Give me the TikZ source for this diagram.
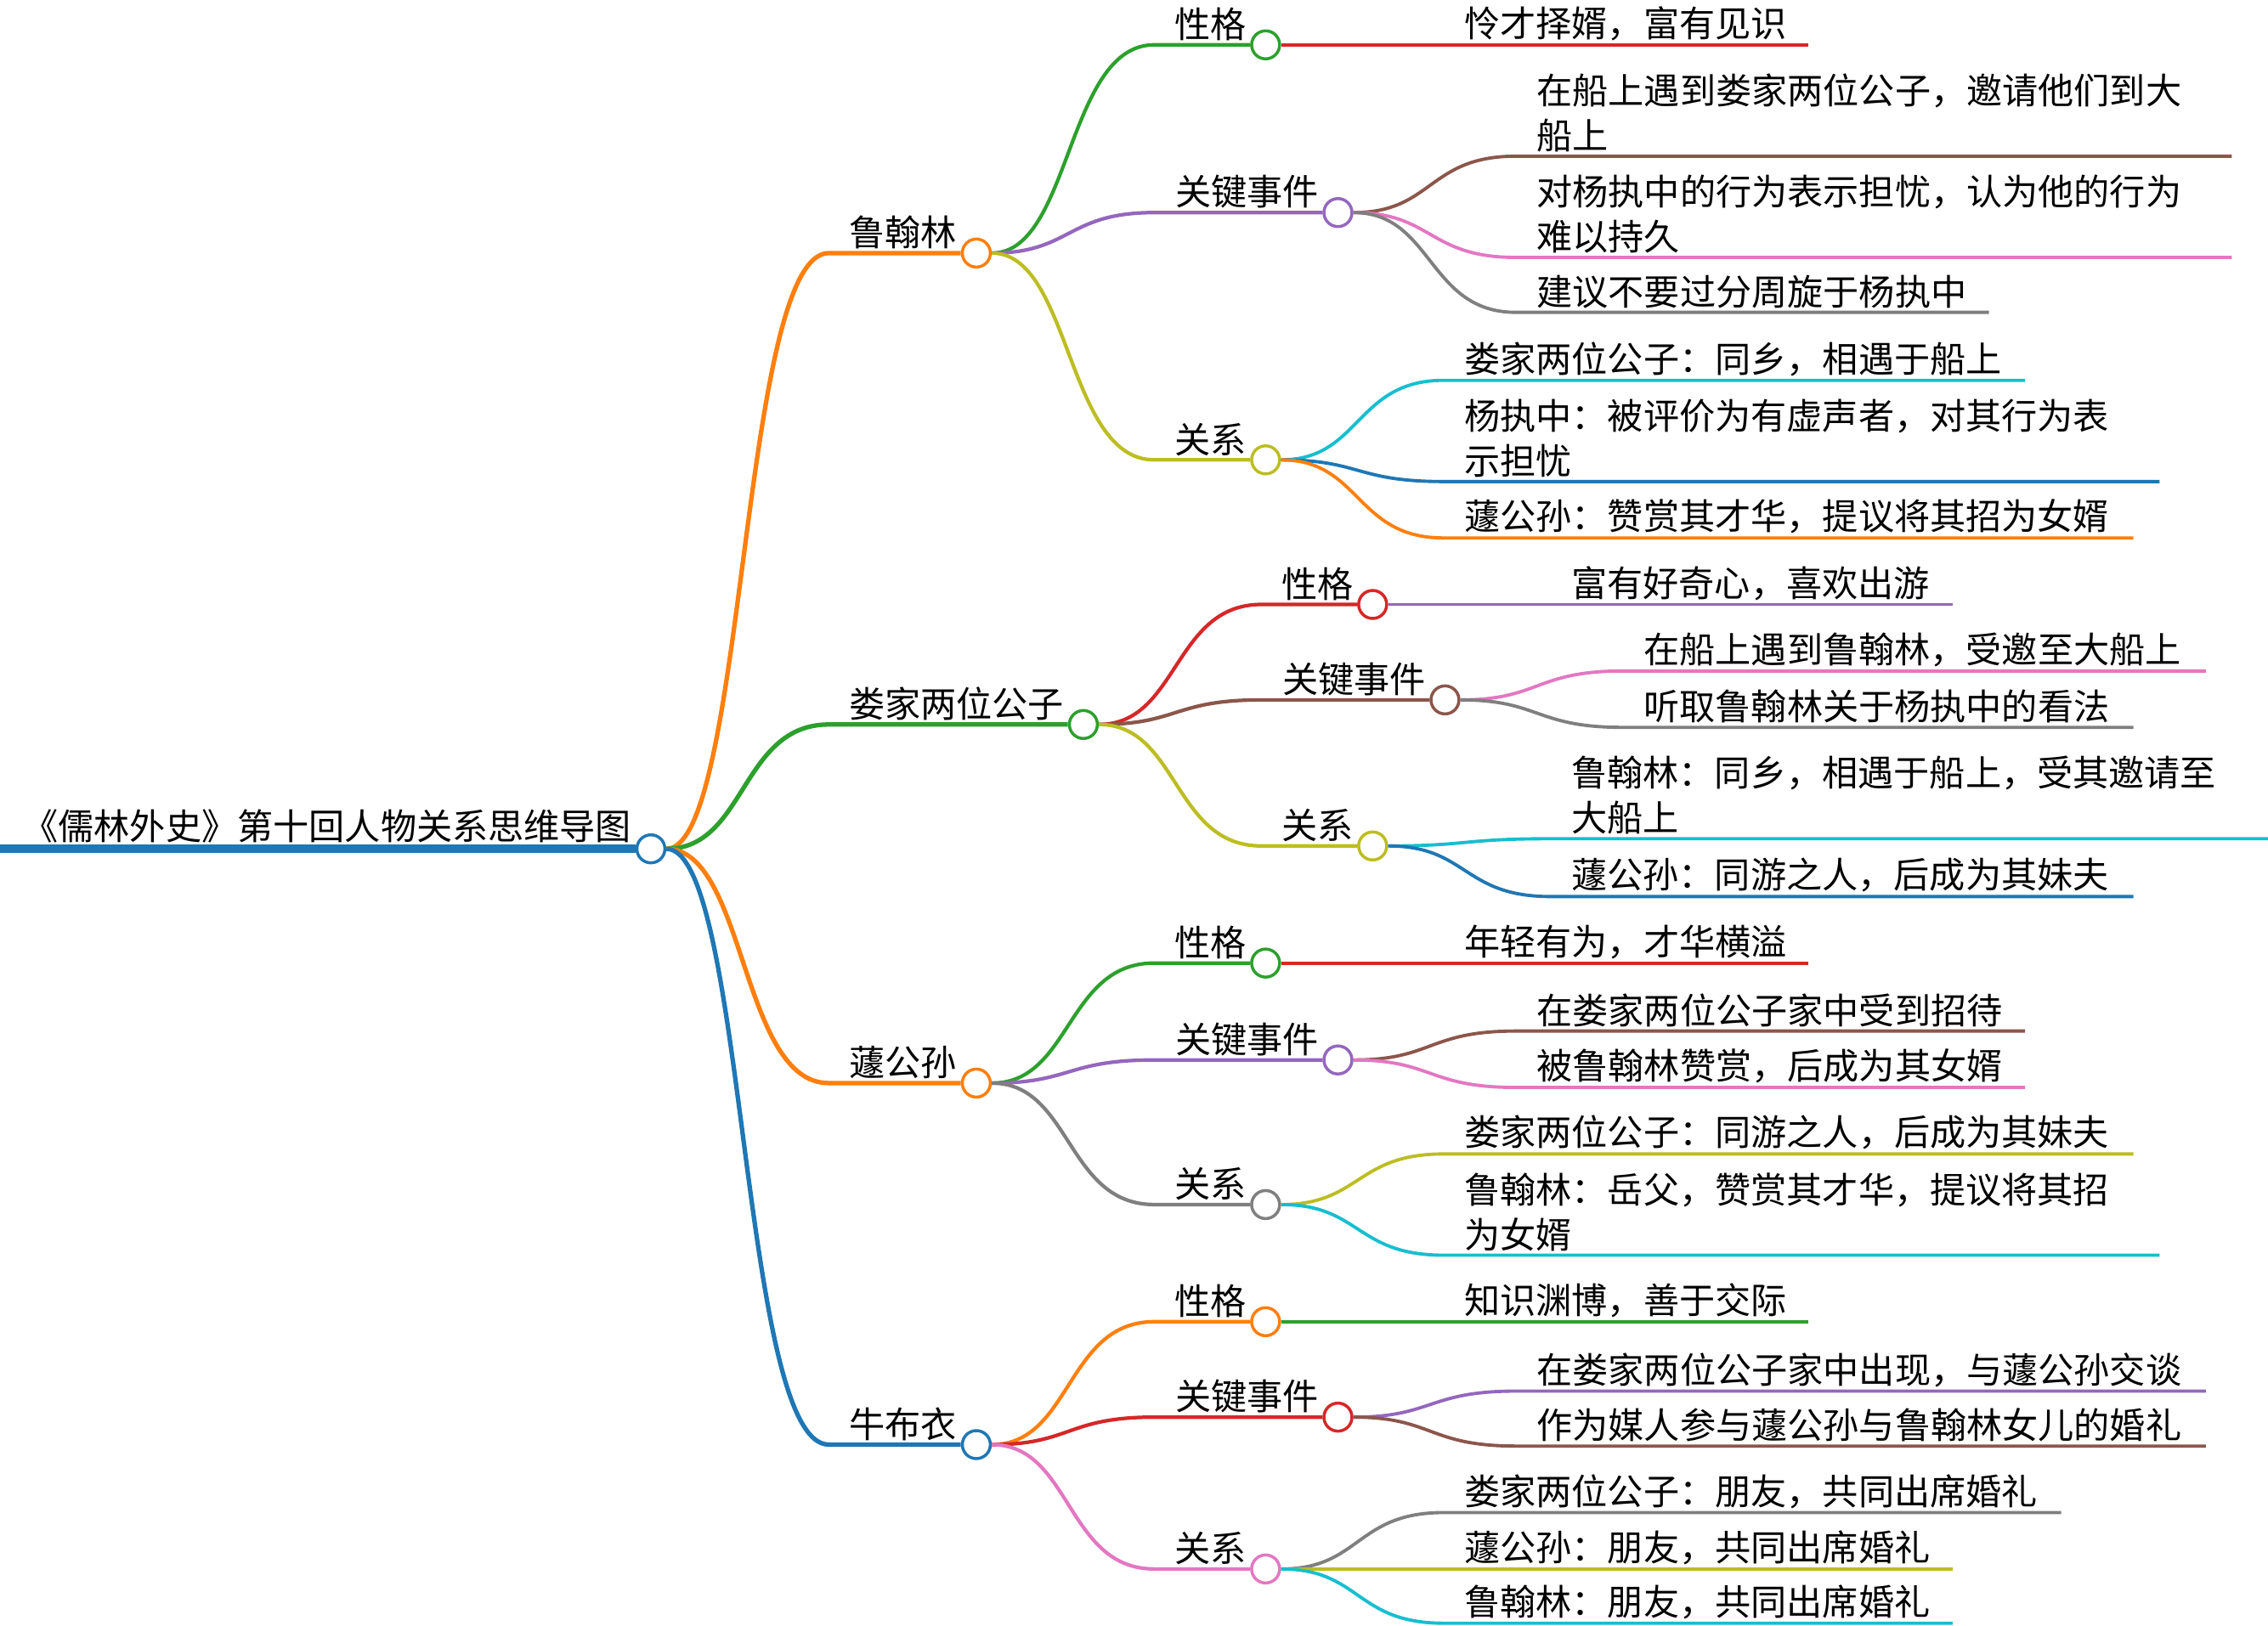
\documentclass[tikz,border=0pt]{standalone}
\usepackage{fontspec}
\setmainfont{Noto Sans CJK SC}
\usetikzlibrary{calc}
\definecolor{tblue}{HTML}{1F77B4}
\definecolor{torange}{HTML}{FF7F0E}
\definecolor{tgreen}{HTML}{2CA02C}
\definecolor{tred}{HTML}{D62728}
\definecolor{tpurple}{HTML}{9467BD}
\definecolor{tbrown}{HTML}{8C564B}
\definecolor{tpink}{HTML}{E377C2}
\definecolor{tgray}{HTML}{7F7F7F}
\definecolor{tolive}{HTML}{BCBD22}
\definecolor{tcyan}{HTML}{17BECF}
\tikzset{
	dot/.style={circle, draw=#1, fill=white, line width=1pt, minimum size=0.33cm, inner sep=0pt},
	lbl/.style={font=\fontsize{12pt}{15pt}\selectfont, inner sep=0pt, align=left}
}
\def\branch[#1](#2)(#3){\draw[#1] (#2.east) .. controls ($(#2.east)+(55,0)$) and ($(#2.center |- #3)+(62,0)$) .. ($(#2.center |- #3)+(123,0)$) -- (#3);}
\def\topic[#1,#2](#3)(#4:#5,#6)#7{%
	\node[dot=#1] (#4) at (#5,#6) {};
	\branch[draw=#1, line width=#2](#3)(#4)
	\node[lbl, anchor=south east] (#4-t) at ($(#4)+(-13,-2.5)$) {#7};}
\def\leaf[#1](#2)(#3:#4:#5)#6{%
	\coordinate (#3) at (#5,#4);
	\branch[draw=#1, line width=1.1pt](#2)(#3)
	\node[lbl, anchor=south west] (#3-t) at ($(#2.center |- #3)+(137,-2.5)$) {#6};}

\begin{document}
\begin{tikzpicture}[x=0.017022cm, y=-0.017022cm]
			%%%%% START %%%%%
			\useasboundingbox (0,0) rectangle (1568,1124);
			
			\node[dot=tblue] (root) at (450,587) {};
			\draw[tblue, line width=2.8pt] (0,587) -- (root);
			\node[lbl, anchor=south east] (root-t) at ($(root)+(-13,-3.5)$) {《儒林外史》第十回人物关系思维导图};
			
			% characters
			\topic[torange,1.5pt](root)(lhl:675,175){鲁翰林}
			\topic[tgreen,1.5pt](root)(lou:749,501){娄家两位公子}
			\topic[torange,1.5pt](root)(qu:675,749){蘧公孙}
			\topic[tblue,1.5pt](root)(niu:675,999){牛布衣}
			
			% 鲁翰林
			\topic[tgreen,1.2pt](lhl)(lhl1:875,31){性格}
			\topic[tpurple,1.2pt](lhl)(lhl2:925,147){关键事件}
			\topic[tolive,1.2pt](lhl)(lhl3:875,318){关系}
			\leaf[tred](lhl1)(lhl1a:31:1250){怜才择婿，富有见识}
			\leaf[tbrown](lhl2)(lhl2a:108:1543){在船上遇到娄家两位公子，邀请他们到大\\船上}
			\leaf[tpink](lhl2)(lhl2b:178:1543){对杨执中的行为表示担忧，认为他的行为\\难以持久}
			\leaf[tgray](lhl2)(lhl2c:216:1375){建议不要过分周旋于杨执中}
			\leaf[tcyan](lhl3)(lhl3a:263:1400){娄家两位公子：同乡，相遇于船上}
			\leaf[tblue](lhl3)(lhl3b:333:1493){杨执中：被评价为有虚声者，对其行为表\\示担忧}
			\leaf[torange](lhl3)(lhl3c:372:1475){蘧公孙：赞赏其才华，提议将其招为女婿}
			
			% 娄家两位公子
			\topic[tred,1.2pt](lou)(lou1:949,418){性格}
			\topic[tbrown,1.2pt](lou)(lou2:999,484){关键事件}
			\topic[tolive,1.2pt](lou)(lou3:949,585){关系}
			\leaf[tpurple](lou1)(lou1a:418:1350){富有好奇心，喜欢出游}
			\leaf[tpink](lou2)(lou2a:464:1525){在船上遇到鲁翰林，受邀至大船上}
			\leaf[tgray](lou2)(lou2b:503:1475){听取鲁翰林关于杨执中的看法}
			\leaf[tcyan](lou3)(lou3a:580:1568){鲁翰林：同乡，相遇于船上，受其邀请至\\大船上}
			\leaf[tblue](lou3)(lou3b:620:1475){蘧公孙：同游之人，后成为其妹夫}
			
			% 蘧公孙
			\topic[tgreen,1.2pt](qu)(qu1:875,666){性格}
			\topic[tpurple,1.2pt](qu)(qu2:925,733){关键事件}
			\topic[tgray,1.2pt](qu)(qu3:875,833){关系}
			\leaf[tred](qu1)(qu1a:666:1250){年轻有为，才华横溢}
			\leaf[tbrown](qu2)(qu2a:713:1400){在娄家两位公子家中受到招待}
			\leaf[tpink](qu2)(qu2b:752:1400){被鲁翰林赞赏，后成为其女婿}
			\leaf[tolive](qu3)(qu3a:798:1475){娄家两位公子：同游之人，后成为其妹夫}
			\leaf[tcyan](qu3)(qu3b:868:1493){鲁翰林：岳父，赞赏其才华，提议将其招\\为女婿}
			
			% 牛布衣
			\topic[torange,1.2pt](niu)(niu1:875,914){性格}
			\topic[tred,1.2pt](niu)(niu2:925,980){关键事件}
			\topic[tpink,1.2pt](niu)(niu3:875,1085){关系}
			\leaf[tgreen](niu1)(niu1a:914:1250){知识渊博，善于交际}
			\leaf[tpurple](niu2)(niu2a:962:1525){在娄家两位公子家中出现，与蘧公孙交谈}
			\leaf[tbrown](niu2)(niu2b:1000:1525){作为媒人参与蘧公孙与鲁翰林女儿的婚礼}
			\leaf[tgray](niu3)(niu3a:1046:1425){娄家两位公子：朋友，共同出席婚礼}
			\leaf[tolive](niu3)(niu3b:1085:1350){蘧公孙：朋友，共同出席婚礼}
			\leaf[tcyan](niu3)(niu3c:1122.5:1350){鲁翰林：朋友，共同出席婚礼}
			
			%%%%% END %%%%%
\end{tikzpicture}
\end{document}
